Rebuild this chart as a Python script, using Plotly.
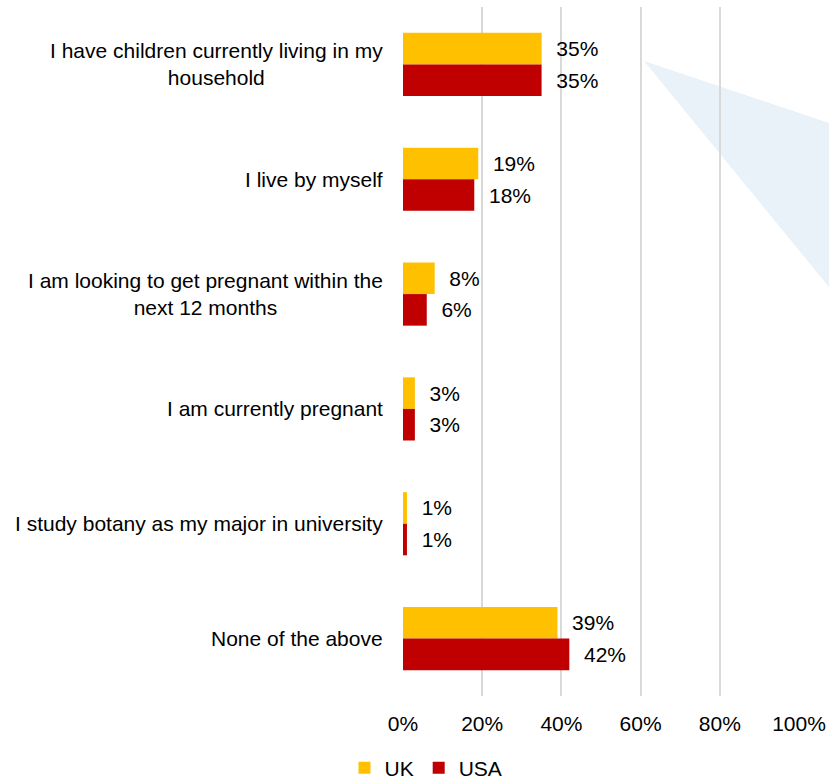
import plotly.graph_objects as go

# Survey answers (share of respondents, %)
categories = [
    "I have children currently living in my<br>household",
    "I live by myself",
    "I am looking to get pregnant within the<br>next 12 months",
    "I am currently pregnant",
    "I study botany as my major in university",
    "None of the above",
]
uk_values = [35, 19, 8, 3, 1, 39]
usa_values = [35, 18, 6, 3, 1, 42]
x_ticks = [0, 20, 40, 60, 80, 100]
x_tick_labels = [f"{v}%" for v in x_ticks]

W, H = 829, 779
M_L, M_R, M_T, M_B = 403, 30, 7, 83
plot_w = W - M_L - M_R
plot_h = H - M_T - M_B

FONT = "Liberation Sans, Arial, sans-serif"
FS = 21


def px_to_paper(px, py):
    return (px - M_L) / plot_w, (H - M_B - py) / plot_h


fig = go.Figure()
for name, vals, color in [("UK", uk_values, "#FFC000"), ("USA", usa_values, "#C00000")]:
    fig.add_trace(go.Bar(
        y=categories, x=vals, name=name, orientation="h",
        marker=dict(color=color, line=dict(width=0)),
        text=[f"{v}%" for v in vals], texttemplate="\u00a0\u00a0%{text}",
        textposition="outside",
        textfont=dict(family=FONT, size=FS, color="#000000"),
        constraintext="none", cliponaxis=False, hoverinfo="skip",
    ))

# category labels, centred multi-line text right of the axis
for cat in categories:
    fig.add_annotation(
        x=0, xref="paper", y=cat, yref="y", text=cat, showarrow=False,
        xanchor="right", yanchor="middle", align="center", xshift=-18,
        font=dict(family=FONT, size=FS, color="#000000"),
    )

# pale callout wedge in the upper right
p1 = px_to_paper(644, 61)
p2 = px_to_paper(829, 123)
p3 = px_to_paper(829, 287)
fig.add_shape(
    type="path", xref="paper", yref="paper", layer="below",
    path=f"M {p1[0]},{p1[1]} L {p2[0]},{p2[1]} L {p3[0]},{p3[1]} Z",
    fillcolor="#E9F1F9", line=dict(width=0),
)

lx, ly = px_to_paper(426, 768)
fig.update_layout(
    width=W, height=H,
    margin=dict(l=M_L, r=M_R, t=M_T, b=M_B, pad=0, autoexpand=False),
    paper_bgcolor="white", plot_bgcolor="rgba(0,0,0,0)",
    barmode="group", bargap=0.45, bargroupgap=0,
    font=dict(family=FONT, size=FS, color="#000000"),
    showlegend=True,
    legend=dict(orientation="h", x=lx, xanchor="center", y=ly, yanchor="middle",
                font=dict(family=FONT, size=FS, color="#000000"),
                bgcolor="rgba(0,0,0,0)", traceorder="normal"),
    xaxis=dict(range=[0, 100], tickmode="array", tickvals=x_ticks, ticktext=x_tick_labels,
               showgrid=True, gridcolor="#D9D9D9", gridwidth=1.5,
               zeroline=False, showline=False, ticks="", ticklabelstandoff=13,
               automargin=False,
               tickfont=dict(family=FONT, size=FS, color="#000000"), fixedrange=True),
    yaxis=dict(categoryorder="array", categoryarray=categories, autorange="reversed",
               showticklabels=False, showgrid=False, zeroline=False, showline=False,
               automargin=False, fixedrange=True),
)

fig.write_html("out.html")
